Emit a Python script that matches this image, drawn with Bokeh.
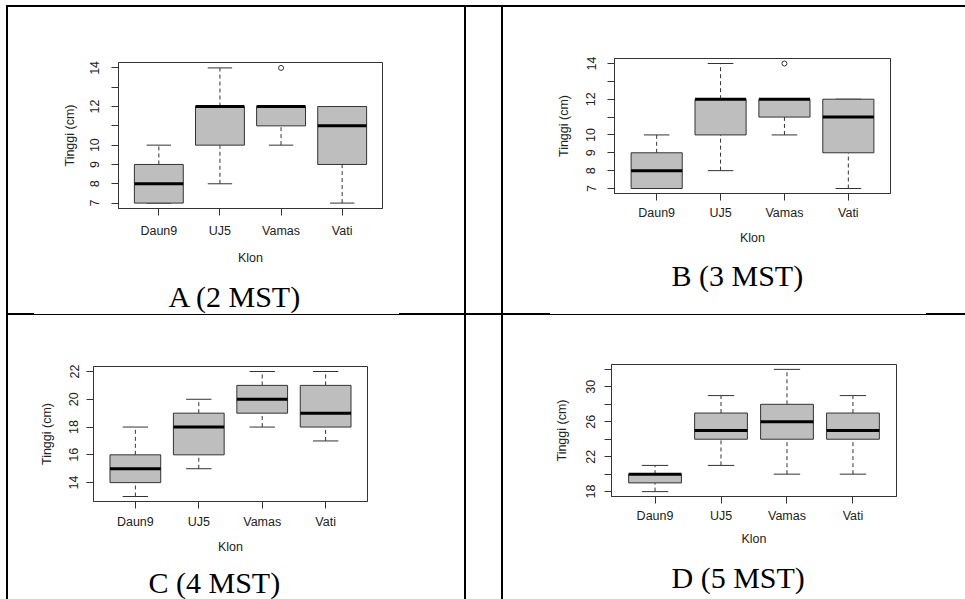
from bokeh.plotting import figure
from bokeh.models import (ColumnDataSource, FactorRange, Range1d, FixedTicker,
                          Spacer, Label)
from bokeh.layouts import row, column
from bokeh.transform import dodge
from bokeh.embed import file_html
from bokeh.resources import INLINE

# ---------------- data ----------------
clones = ["Daun9", "UJ5", "Vamas", "Vati"]

# A (2 MST)
a_low = [7, 8, 10, 7]
a_q1 = [7, 10, 11, 9]
a_med = [8, 12, 12, 11]
a_q3 = [9, 12, 12, 12]
a_high = [10, 14, 12, 12]
a_out_clone = ["Vamas"]
a_out_val = [14]
a_ticks = [7, 8, 9, 10, 11, 12, 13, 14]
a_hidden = [11, 13]

# B (3 MST)
b_low = [7, 8, 10, 7]
b_q1 = [7, 10, 11, 9]
b_med = [8, 12, 12, 11]
b_q3 = [9, 12, 12, 12]
b_high = [10, 14, 12, 12]
b_out_clone = ["Vamas"]
b_out_val = [14]
b_ticks = [7, 8, 9, 10, 11, 12, 13, 14]
b_hidden = [11, 13]

# C (4 MST)
c_low = [13, 15, 18, 17]
c_q1 = [14, 16, 19, 18]
c_med = [15, 18, 20, 19]
c_q3 = [16, 19, 21, 21]
c_high = [18, 20, 22, 22]
c_out_clone = []
c_out_val = []
c_ticks = [14, 16, 18, 20, 22]
c_hidden = []

# D (5 MST)
d_low = [18, 21, 20, 20]
d_q1 = [19, 24, 24, 24]
d_med = [20, 25, 26, 25]
d_q3 = [20, 27, 28, 27]
d_high = [21, 29, 32, 29]
d_out_clone = []
d_out_val = []
d_ticks = [18, 20, 22, 24, 26, 28, 30, 32]
d_hidden = [20, 24, 28, 32]

captions = ["A (2 MST)", "B (3 MST)", "C (4 MST)", "D (5 MST)"]
x_title = "Klon"
y_title = "Tinggi (cm)"

INK = "#333333"
BOX_FILL = "#bebebe"
SANS = "Liberation Sans"
SERIF = "Liberation Serif"
FS = "12.5px"


def panel(low, q1, med, q3, high, out_c, out_v, ticks, hidden,
          width, height, borders, tick_std, lab_std, xt_std, xl_std):
    allv = low + high + out_v
    lo, hi = min(allv), max(allv)
    pad = 0.04 * (hi - lo)
    p = figure(width=width, height=height, output_backend="svg",
               toolbar_location=None,
               x_range=FactorRange(factors=clones, range_padding=0.08,
                                   range_padding_units="percent"),
               y_range=Range1d(lo - pad, hi + pad),
               min_border_left=borders[0], min_border_right=borders[1],
               min_border_top=borders[2], min_border_bottom=borders[3])
    p.background_fill_color = "white"
    p.border_fill_color = "white"
    p.outline_line_color = INK
    p.outline_line_width = 1
    p.xgrid.visible = False
    p.ygrid.visible = False

    src = ColumnDataSource(dict(clone=clones, low=low, q1=q1, med=med,
                                q3=q3, high=high))
    xr = p.x_range
    # whiskers (dashed)
    p.segment(x0="clone", y0="q3", x1="clone", y1="high", source=src,
              line_color=INK, line_width=1, line_dash="4 3")
    p.segment(x0="clone", y0="low", x1="clone", y1="q1", source=src,
              line_color=INK, line_width=1, line_dash="4 3")
    # caps
    p.segment(x0=dodge("clone", -0.2, range=xr), y0="high",
              x1=dodge("clone", 0.2, range=xr), y1="high", source=src,
              line_color=INK, line_width=1)
    p.segment(x0=dodge("clone", -0.2, range=xr), y0="low",
              x1=dodge("clone", 0.2, range=xr), y1="low", source=src,
              line_color=INK, line_width=1)
    # boxes
    p.vbar(x="clone", width=0.8, bottom="q1", top="q3", source=src,
           fill_color=BOX_FILL, line_color=INK, line_width=1)
    # medians
    p.segment(x0=dodge("clone", -0.4, range=xr), y0="med",
              x1=dodge("clone", 0.4, range=xr), y1="med", source=src,
              line_color="black", line_width=3)
    if out_v:
        p.scatter(x=out_c, y=out_v, marker="circle", size=5,
                  fill_color=None, line_color=INK, line_width=1)

    for ax in (p.xaxis[0], p.yaxis[0]):
        ax.axis_line_color = INK
        ax.major_tick_line_color = INK
        ax.major_tick_out = 7
        ax.major_tick_in = 0
        ax.minor_tick_line_color = None
        ax.major_label_text_font = SANS
        ax.major_label_text_font_size = FS
        ax.major_label_text_color = "#222222"
        ax.axis_label_text_font = SANS
        ax.axis_label_text_font_size = FS
        ax.axis_label_text_font_style = "normal"
        ax.axis_label_text_color = "#222222"

    p.xaxis.axis_label = x_title
    p.xaxis.major_label_standoff = xt_std
    p.xaxis.axis_label_standoff = xl_std

    p.yaxis.axis_label = y_title
    p.yaxis.ticker = FixedTicker(ticks=ticks, minor_ticks=[])
    p.yaxis.major_label_overrides = {t: "" for t in hidden}
    p.yaxis.major_label_orientation = "vertical"
    p.yaxis.major_label_standoff = tick_std
    p.yaxis.axis_label_standoff = lab_std
    return p


def caption_box(text, width, height, left):
    c = figure(width=width, height=height, output_backend="svg",
               toolbar_location=None, x_axis_location=None,
               y_axis_location=None, min_border=0,
               x_range=Range1d(0, 1), y_range=Range1d(0, 1))
    c.outline_line_color = None
    c.xgrid.visible = False
    c.ygrid.visible = False
    c.add_layout(Label(x=left, y=height / 2, x_units="screen", y_units="screen",
                       text=text, text_font=SERIF, text_font_size="30px",
                       text_color="black", text_baseline="middle",
                       text_align="left"))
    return c


pA = panel(a_low, a_q1, a_med, a_q3, a_high, a_out_clone, a_out_val,
           a_ticks, a_hidden, 456, 272, (110, 82, 55, 71), 12, 11, 8, 10)
pB = panel(b_low, b_q1, b_med, b_q3, b_high, b_out_clone, b_out_val,
           b_ticks, b_hidden, 462, 251, (111, 75, 51, 65), 12, 13, 5, 8)
pC = panel(c_low, c_q1, c_med, c_q3, c_high, c_out_clone, c_out_val,
           c_ticks, c_hidden, 456, 250, (85, 97, 51, 64), 8, 13, 6, 8)
pD = panel(d_low, d_q1, d_med, d_q3, d_high, d_out_clone, d_out_val,
           d_ticks, d_hidden, 462, 245, (108, 69, 49, 64), 9, 15, 5, 6)

capA = caption_box(captions[0], 456, 34, 160)
capB = caption_box(captions[1], 462, 34, 168)
capC = caption_box(captions[2], 456, 34, 140)
capD = caption_box(captions[3], 462, 34, 168)


def bar(w, h, color=None):
    if color is None:
        return Spacer(width=w, height=h)
    return Spacer(width=w, height=h, styles={"background-color": color})


def hline(segments):
    parts = []
    for w, thick in segments:
        if thick:
            parts.append(bar(w, 2, "black"))
        else:
            parts.append(column(bar(w, 1), bar(w, 1, "black")))
    return row(*parts)


colA = column(row(pA), row(capA),
              hline([(26, True), (365, False), (65, True)]),
              row(pC), row(capC))
gap = column(bar(35, 306), bar(35, 2, "black"), bar(35, 284))
colB = column(row(pB), row(capB), bar(462, 21),
              hline([(47, True), (376, False), (39, True)]),
              row(pD), row(capD), bar(462, 5))

body = row(bar(6, 592), bar(2, 592, "black"), colA, bar(2, 592, "black"),
           gap, bar(2, 592, "black"), colB)
page = column(bar(965, 5), row(bar(6, 2), bar(959, 2, "black")), body)

open("out.html", "w").write(file_html(page, INLINE))
